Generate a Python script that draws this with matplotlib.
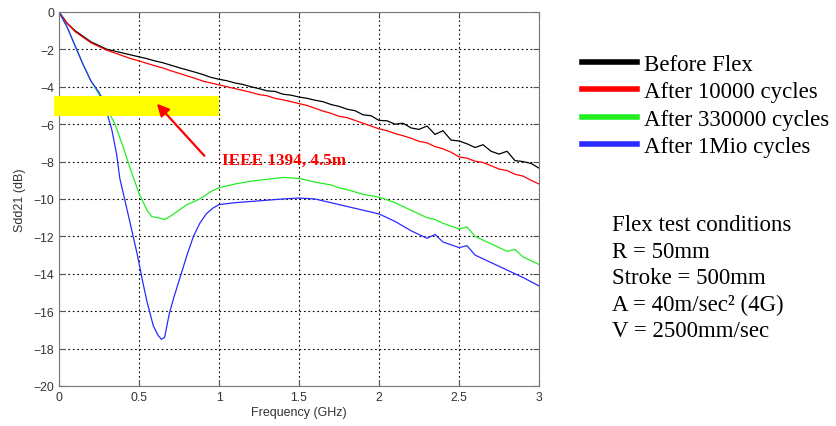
"""Sdd21 insertion loss of a cable before and after flex cycling."""
import matplotlib
matplotlib.use("Agg")
import matplotlib.pyplot as plt

# Before Flex / After 10000 cycles share one frequency grid (GHz)
freq_a = [i * 0.05 for i in range(61)]
before_flex = [
    0.0, -0.6, -1.0, -1.3, -1.6, -1.8, -2.0, -2.1, -2.2, -2.3, -2.4,
    -2.5, -2.62, -2.72, -2.85, -2.98, -3.1, -3.22, -3.35, -3.5, -3.6,
    -3.68, -3.8, -3.88, -4.0, -4.1, -4.22, -4.25, -4.4, -4.45, -4.55,
    -4.62, -4.72, -4.8, -4.95, -5.05, -5.2, -5.28, -5.5, -5.55, -5.8,
    -5.82, -6.0, -5.95, -6.2, -6.28, -6.1, -6.55, -6.35, -6.85, -6.9,
    -7.05, -7.25, -7.1, -7.45, -7.6, -7.45, -7.95, -8.0, -8.1, -8.35,
]
after_10k = [
    0.0, -0.6, -1.05, -1.35, -1.65, -1.85, -2.05, -2.2, -2.35, -2.5, -2.62,
    -2.75, -2.88, -3.0, -3.15, -3.28, -3.42, -3.55, -3.7, -3.8, -3.9,
    -4.0, -4.1, -4.2, -4.3, -4.42, -4.48, -4.62, -4.7, -4.8, -4.9,
    -5.0, -5.15, -5.3, -5.42, -5.58, -5.65, -5.8, -5.95, -6.1, -6.25,
    -6.35, -6.5, -6.62, -6.75, -6.92, -7.0, -7.2, -7.32, -7.5, -7.75,
    -7.82, -7.98, -8.05, -8.22, -8.4, -8.48, -8.68, -8.78, -9.0, -9.2,
]

# After 330000 cycles
freq_green = [
    0.0, 0.05, 0.1, 0.15, 0.2, 0.25, 0.28, 0.3, 0.35, 0.4, 0.45, 0.5,
    0.55, 0.58, 0.62, 0.66, 0.7, 0.75, 0.8, 0.88, 0.95, 1.0, 1.1, 1.2,
    1.3, 1.4, 1.5, 1.6, 1.7, 1.75, 1.8, 1.9, 2.0, 2.1, 2.2, 2.3, 2.35,
    2.4, 2.5, 2.55, 2.6, 2.7, 2.8, 2.85, 2.9, 3.0,
]
after_330k = [
    0.0, -0.8, -1.8, -2.8, -3.7, -4.4, -4.9, -5.2, -6.0, -7.2, -8.5, -9.7,
    -10.6, -10.95, -11.0, -11.1, -10.9, -10.6, -10.3, -10.0, -9.6, -9.4, -9.2, -9.05,
    -8.95, -8.85, -8.9, -9.1, -9.25, -9.4, -9.5, -9.75, -9.9, -10.2, -10.6, -11.0, -11.1,
    -11.3, -11.6, -11.5, -12.0, -12.4, -12.8, -12.7, -13.1, -13.5,
]

# After 1Mio cycles
freq_blue = [
    0.0, 0.05, 0.1, 0.15, 0.2, 0.25, 0.28, 0.3, 0.33, 0.36, 0.38, 0.41,
    0.45, 0.49, 0.52, 0.55, 0.59, 0.62, 0.64, 0.66, 0.69, 0.72, 0.76, 0.8,
    0.84, 0.88, 0.92, 0.96, 1.0, 1.1, 1.25, 1.4, 1.5, 1.6, 1.7, 1.8, 1.9,
    2.0, 2.1, 2.2, 2.3, 2.35, 2.4, 2.5, 2.55, 2.6, 2.7, 2.75, 2.8, 2.9, 3.0,
]
after_1mio = [
    0.0, -0.8, -1.8, -2.8, -3.7, -4.3, -4.8, -5.4, -6.3, -7.6, -8.9, -10.0,
    -11.5, -13.0, -14.3, -15.5, -16.8, -17.3, -17.5, -17.4, -16.1, -15.2, -14.1, -13.0,
    -12.0, -11.3, -10.8, -10.5, -10.3, -10.2, -10.1, -10.0, -9.95, -10.0, -10.2, -10.4, -10.6,
    -10.8, -11.2, -11.7, -12.1, -11.9, -12.3, -12.6, -12.5, -13.0, -13.4, -13.6, -13.8, -14.2, -14.65,
]

series = [
    (freq_a, before_flex, "black", "Before Flex"),
    (freq_a, after_10k, "#ff0000", "After 10000 cycles"),
    (freq_green, after_330k, "#22ee22", "After 330000 cycles"),
    (freq_blue, after_1mio, "#2a2aff", "After 1Mio cycles"),
]

conditions = [
    "Flex test conditions",
    "R = 50mm",
    "Stroke = 500mm",
    "A = 40m/sec\u00b2 (4G)",
    "V = 2500mm/sec",
]

fig = plt.figure(figsize=(8.37, 4.27), dpi=100)
ax = fig.add_axes([0.0705, 0.0937, 0.5735, 0.876])

for x, y, color, label in series:
    ax.plot(x, y, color=color, lw=0.9, label=label)

ax.set_xlim(0, 3)
ax.set_ylim(-20, 0)
ax.set_xticks([0, 0.5, 1, 1.5, 2, 2.5, 3])
ax.set_xticklabels(["0", "0.5", "1", "1.5", "2", "2.5", "3"])
ax.set_yticks(range(-20, 1, 2))
ax.grid(True, color="black", linestyle=(0, (1.5, 2.5)), lw=0.8)
ax.tick_params(direction="in", top=True, right=True, length=4,
               labelsize=8.8, labelcolor="#333333", color="#555555")
for lab in ax.get_xticklabels() + ax.get_yticklabels():
    lab.set_fontfamily("Liberation Sans")
for sp in ax.spines.values():
    sp.set_color("#777777")
ax.set_xlabel("Frequency (GHz)", fontsize=9, family="Liberation Sans",
              color="#333333", labelpad=2)
ax.set_ylabel("Sdd21 (dB)", fontsize=9, family="Liberation Sans",
              color="#333333", labelpad=5)

# IEEE 1394 4.5m limit band
ax.fill_between([-0.03, 1.0], -5.55, -4.5, color="#ffff00", lw=0,
                zorder=5, clip_on=False)
ax.annotate("", xy=(0.6, -4.8), xytext=(0.92, -7.8),
            arrowprops=dict(arrowstyle="-|>", color="red", lw=1.6,
                            mutation_scale=18), zorder=6)
ax.text(1.02, -7.9, "IEEE 1394, 4.5m", color="red", fontsize=12.3,
        fontweight="bold", family="Liberation Serif", va="center", zorder=6)

leg = ax.legend(loc="upper left", bbox_to_anchor=(1.09, 0.887), frameon=False,
                prop={"family": "Liberation Serif", "size": 16.5},
                handlelength=2.4, handletextpad=0.3, labelspacing=0.27,
                borderaxespad=0, borderpad=0)
for h in leg.get_lines():
    h.set_linewidth(4)

for i, line in enumerate(conditions):
    fig.text(612 / 837, 1 - (226 + i * 26.5) / 427, line,
             family="Liberation Serif", fontsize=16.5, va="center")

fig.savefig("out.png", dpi=100)
